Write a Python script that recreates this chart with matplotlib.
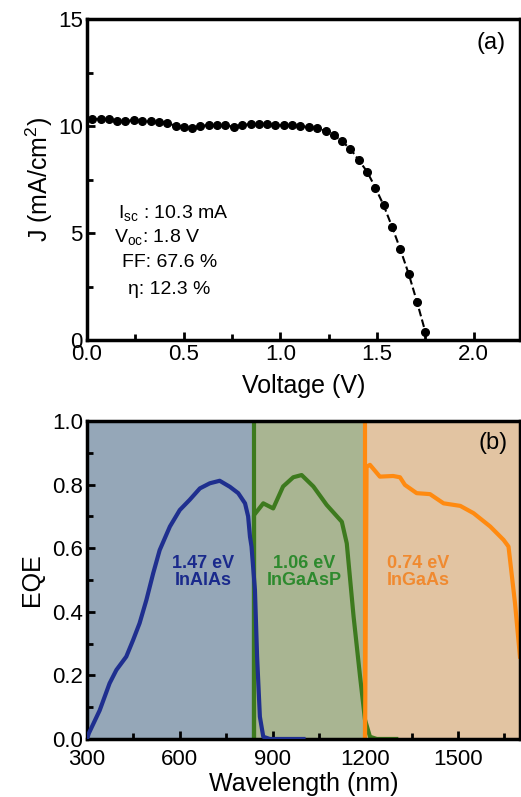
import matplotlib
matplotlib.use("Agg")
import matplotlib.pyplot as plt
from matplotlib.ticker import MultipleLocator, FormatStrFormatter

plt.rcParams['font.family'] = ['Liberation Sans', 'DejaVu Sans']
plt.rcParams['mathtext.fontset'] = 'custom'
plt.rcParams['mathtext.rm'] = 'Liberation Sans'
plt.rcParams['mathtext.it'] = 'Liberation Sans:italic'

# ---- Panel (a): J-V data ----
voltage = [0.027, 0.070, 0.113, 0.156, 0.199, 0.242, 0.286, 0.329, 0.372, 0.415,
           0.458, 0.501, 0.544, 0.587, 0.630, 0.673, 0.716, 0.760, 0.803, 0.846,
           0.889, 0.932, 0.975, 1.018, 1.061, 1.104, 1.147, 1.190, 1.234, 1.277,
           1.320, 1.363, 1.406, 1.449, 1.492, 1.535, 1.578, 1.621, 1.665, 1.708, 1.751]
current = [10.33, 10.33, 10.31, 10.25, 10.23, 10.28, 10.23, 10.22, 10.20, 10.16,
           10.00, 9.97, 9.92, 10.00, 10.05, 10.03, 10.03, 9.97, 10.05, 10.09,
           10.12, 10.09, 10.05, 10.03, 10.03, 10.00, 9.95, 9.89, 9.77, 9.58,
           9.28, 8.93, 8.41, 7.87, 7.12, 6.29, 5.30, 4.24, 3.07, 1.76, 0.36]
params_text = [r"I$_{\mathrm{sc}}$ : 10.3 mA", r"V$_{\mathrm{oc}}$: 1.8 V", "FF: 67.6 %", "η: 12.3 %"]

# ---- Panel (b): EQE data ----
inalas_wl = [300, 306, 341, 373, 395, 427, 449, 470, 492, 514, 535, 568, 600, 632, 665,
             697, 729, 762, 789, 811, 821, 827, 832, 843, 850, 859, 870, 891, 1000]
inalas_eqe = [0.0, 0.018, 0.09, 0.175, 0.217, 0.259, 0.311, 0.364, 0.437, 0.521, 0.594,
              0.668, 0.72, 0.752, 0.788, 0.804, 0.812, 0.793, 0.773, 0.741, 0.70, 0.636,
              0.605, 0.469, 0.259, 0.07, 0.007, 0.0, 0.0]
ingaasp_wl = [840, 840, 870, 902, 934, 967, 994, 1032, 1075, 1124, 1140, 1162, 1183, 1199,
              1215, 1237, 1300]
ingaasp_eqe = [0.0, 0.704, 0.741, 0.725, 0.794, 0.823, 0.83, 0.794, 0.736, 0.683, 0.615,
               0.385, 0.196, 0.06, 0.007, 0.0, 0.0]
ingaas_wl = [1199, 1202, 1204, 1215, 1247, 1290, 1312, 1328, 1366, 1409, 1453, 1507, 1550,
             1604, 1647, 1663, 1684, 1700]
ingaas_eqe = [0.0, 0.5, 0.856, 0.862, 0.825, 0.827, 0.823, 0.799, 0.773, 0.77, 0.741,
              0.733, 0.71, 0.668, 0.626, 0.605, 0.427, 0.259]
region_edges = [300, 840, 1197, 1700]
region_colors = ['#95a7b8', '#a9b592', '#e2c4a2']
curve_colors = ['#1f2f8f', '#3d7a1e', '#ff8a10']
label_colors = ['#1a2a8c', '#2e8a2e', '#f08a30']
labels = ["1.47 eV\nInAlAs", "1.06 eV\nInGaAsP", "0.74 eV\nInGaAs"]
label_x = [675, 1003, 1370]

fig = plt.figure(figsize=(5.21, 7.97), dpi=100)
ax1 = fig.add_axes([0.167, 0.5734, 0.831, 0.4026])
ax2 = fig.add_axes([0.167, 0.0728, 0.831, 0.399])

FS = 16
# Panel a
ax1.plot(voltage, current, color='black', lw=1.5, ls='--', marker='o', ms=5.5, mec='black', mfc='black')
ax1.set_xlim(0, 2.24)
ax1.set_ylim(0, 15)
ax1.xaxis.set_major_locator(MultipleLocator(0.5))
ax1.xaxis.set_minor_locator(MultipleLocator(0.25))
ax1.yaxis.set_major_locator(MultipleLocator(5))
ax1.yaxis.set_minor_locator(MultipleLocator(2.5))
ax1.xaxis.set_major_formatter(FormatStrFormatter('%.1f'))
ax1.set_xlabel("Voltage (V)", fontsize=18, labelpad=6)
ax1.set_ylabel(r"J (mA/cm$^{2}$)", fontsize=18, labelpad=2)
ax1.text(2.09, 13.9, "(a)", fontsize=17, ha='center', va='center')
pos = [(0.16, 5.93), (0.14, 4.81), (0.18, 3.6), (0.21, 2.38)]
for t, (px, py) in zip(params_text, pos):
    ax1.text(px, py, t, fontsize=14, ha='left', va='center')

# Panel b
for i in range(3):
    ax2.axvspan(region_edges[i], region_edges[i + 1], color=region_colors[i], lw=0, zorder=0)
ax2.axvline(840, color=curve_colors[1], lw=3, zorder=1)
ax2.axvline(1199, color=curve_colors[2], lw=3, zorder=1)
ax2.plot(inalas_wl, inalas_eqe, color=curve_colors[0], lw=3, zorder=3)
ax2.plot(ingaasp_wl, ingaasp_eqe, color=curve_colors[1], lw=3, zorder=2)
ax2.plot(ingaas_wl, ingaas_eqe, color=curve_colors[2], lw=3, zorder=2)
for t, x, c in zip(labels, label_x, label_colors):
    ax2.text(x, 0.525, t, color=c, fontsize=13, fontweight='bold', ha='center', va='center',
             linespacing=1.05)
ax2.set_xlim(300, 1700)
ax2.set_ylim(0, 1.0)
ax2.xaxis.set_major_locator(MultipleLocator(300))
ax2.xaxis.set_minor_locator(MultipleLocator(150))
ax2.yaxis.set_major_locator(MultipleLocator(0.2))
ax2.yaxis.set_minor_locator(MultipleLocator(0.1))
ax2.yaxis.set_major_formatter(FormatStrFormatter('%.1f'))
ax2.set_xlabel("Wavelength (nm)", fontsize=18, labelpad=2)
ax2.set_ylabel("EQE", fontsize=18, labelpad=6)
ax2.text(1614, 0.93, "(b)", fontsize=17, ha='center', va='center')

for ax in (ax1, ax2):
    for s in ax.spines.values():
        s.set_linewidth(2.5)
    ax.tick_params(which='both', direction='in', top=False, right=False, labelsize=FS, width=2)
    ax.tick_params(which='major', length=6)
    ax.tick_params(which='minor', length=4)
ax1.tick_params(axis='x', pad=3)
ax1.tick_params(axis='y', pad=3)
ax2.tick_params(axis='x', pad=7)
ax2.tick_params(axis='y', pad=3)

fig.savefig("out.png", dpi=100)
